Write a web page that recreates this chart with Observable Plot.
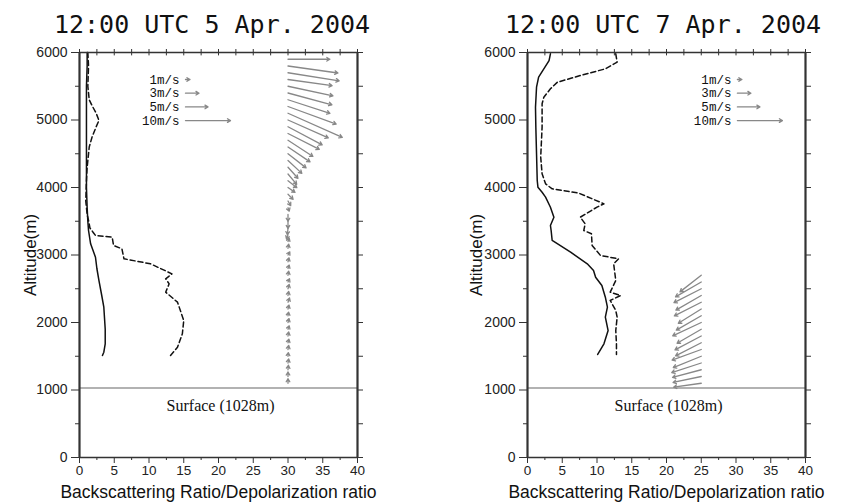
<!DOCTYPE html>
<html><head><meta charset="utf-8">
<script src="https://cdn.jsdelivr.net/npm/d3@7"></script>
<script src="https://cdn.jsdelivr.net/npm/@observablehq/plot@0.6"></script>
<style>
body{margin:0;background:#fff;}
#wrap{position:relative;width:843px;height:502px;overflow:hidden;background:#fff;}
.title{position:absolute;top:12px;width:340px;text-align:center;font-family:"DejaVu Sans Mono",monospace;font-size:25px;line-height:25px;color:#111;white-space:pre;}
.panel{position:absolute;top:40px;}
</style></head><body>
<div id="wrap">
<div class="title" id="t1" style="left:42px"></div>
<div class="title" id="t2" style="left:493px"></div>
<div class="panel" id="p1" style="left:0"></div>
<div class="panel" id="p2" style="left:421px"></div>
</div>
<script>
const titles = ["12:00 UTC 5 Apr. 2004", "12:00 UTC 7 Apr. 2004"];
const xLabel = "Backscattering Ratio/Depolarization ratio";
const yLabel = "Altitude(m)";
const surfaceAlt = 1028;
const surfaceLabel = "Surface (1028m)";
const xTicks = [0, 5, 10, 15, 20, 25, 30, 35, 40];
const yTicks = [0, 1000, 2000, 3000, 4000, 5000, 6000];
const legendSpeeds = [1, 3, 5, 10];
const legendLabels = ["1m/s", "3m/s", "5m/s", "10m/s"];

// ---- 12:00 UTC 5 Apr 2004 ----
const solidAlt5 = [6000, 5800, 5500, 5000, 4500, 4000, 3700, 3500, 3363, 3166, 2967, 2800, 2622, 2400, 2227, 1900, 1684, 1560, 1511];
const solidVal5 = [1.1, 1.1, 1.0, 1.0, 1.0, 1.0, 1.1, 1.2, 1.3, 1.6, 2.3, 2.5, 2.8, 3.2, 3.5, 3.7, 3.7, 3.5, 3.3];
const dashAlt5 = [6000, 5800, 5500, 5300, 5215, 5100, 4993, 4900, 4745, 4600, 4499, 4300, 4100, 3800, 3600, 3511, 3400, 3330, 3289, 3264, 3141, 3092, 2944, 2870, 2721, 2647, 2573, 2449, 2301, 2030, 1833, 1634, 1511];
const dashVal5 = [1.2, 1.3, 1.2, 1.4, 1.8, 2.4, 2.8, 2.4, 1.8, 1.4, 1.3, 1.1, 1.0, 0.9, 1.1, 1.3, 1.5, 2.0, 2.3, 4.7, 4.9, 6.1, 6.4, 10.2, 13.3, 12.4, 12.9, 12.4, 14.1, 15.0, 14.8, 14.1, 13.1];
const windAlt5 = [5900, 5800, 5700, 5600, 5500, 5400, 5300, 5200, 5100, 5000, 4900, 4800, 4700, 4600, 4500, 4400, 4300, 4200, 4100, 4000, 3900, 3800, 3700, 3600, 3500, 3400, 3300, 3200, 3100, 3000, 2900, 2800, 2700, 2600, 2500, 2400, 2300, 2200, 2100, 2000, 1900, 1800, 1700, 1600, 1500, 1400, 1300, 1200, 1100];
const windSpd5 = [9.3, 11.2, 11.5, 9.9, 10.2, 10.1, 9.8, 11.4, 13.2, 9.8, 8.6, 7.8, 6.6, 5.9, 5.1, 4.2, 3.3, 3.0, 2.5, 1.9, 1.6, 1.2, 0.8, 1.5, 1.6, 1.5, 1.0, 0.8, 0.9, 0.8, 0.9, 0.8, 0.9, 0.8, 1.0, 0.9, 1.0, 0.9, 0.8, 0.9, 0.8, 0.9, 0.8, 0.9, 0.8, 0.9, 1.0, 1.0, 1.0];
const windDir5 = [90, 98, 99, 98, 102, 105, 108, 110, 114, 114, 118, 117, 123, 124, 128, 133, 138, 140, 128, 125, 135, 150, 160, 180, 180, 185, 200, 20, 10, 30, 15, 20, 10, 25, 15, 10, 20, 15, 10, 15, 20, 10, 15, 10, 5, 10, 5, 0, 0];

// ---- 12:00 UTC 7 Apr 2004 ----
const solidAlt7 = [5980, 5881, 5758, 5634, 5486, 5190, 4893, 4499, 4104, 4005, 3930, 3857, 3708, 3560, 3437, 3363, 3215, 3042, 2869, 2770, 2671, 2548, 2375, 2227, 2079, 1881, 1684, 1526];
const solidVal7 = [3.3, 3.1, 2.35, 1.6, 1.3, 1.15, 1.2, 1.3, 1.4, 1.5, 2.1, 2.6, 3.3, 3.8, 3.3, 3.4, 3.55, 6.2, 8.6, 9.5, 9.8, 10.7, 11.2, 11.5, 11.2, 11.6, 11.0, 10.1];
const dashAlt7 = [5980, 5857, 5758, 5659, 5560, 5462, 5338, 5240, 4894, 4450, 4203, 4054, 3980, 3916, 3758, 3709, 3560, 3462, 3363, 3314, 3141, 2993, 2943, 2869, 2622, 2449, 2400, 2326, 2178, 2079, 1881, 1684, 1526];
const dashVal7 = [12.7, 12.9, 11.2, 7.6, 4.3, 3.3, 2.35, 2.1, 2.1, 1.9, 2.1, 2.6, 3.55, 7.4, 11.0, 10.0, 7.6, 8.3, 8.1, 9.2, 9.3, 10.5, 13.1, 12.4, 12.7, 11.9, 13.4, 11.9, 12.7, 12.9, 12.7, 12.8, 12.8];
const windAlt7 = [2700, 2600, 2500, 2400, 2300, 2200, 2100, 2000, 1900, 1800, 1700, 1600, 1500, 1400, 1300, 1200, 1100];
const windSpd7 = [6.0, 6.6, 6.8, 6.5, 6.7, 6.0, 6.4, 7.0, 6.2, 6.6, 6.4, 6.9, 6.7, 6.9, 6.6, 6.4, 6.2];
const windDir7 = [232, 240, 243, 240, 243, 238, 240, 245, 240, 242, 243, 250, 248, 252, 255, 258, 262];

const arrowShape = {
  draw(context, l) {
    context.moveTo(0, 0);
    context.lineTo(0, -l);
    const h = Math.min(3, l * 0.8);
    context.moveTo(-1.8, h - l);
    context.lineTo(0, -l);
    context.lineTo(1.8, h - l);
  }
};

function panel(o) {
  const solid = o.solidAlt.map((a, i) => ({alt: a, v: o.solidVal[i]}));
  const dash = o.dashAlt.map((a, i) => ({alt: a, v: o.dashVal[i]}));
  const wind = o.windAlt.map((a, i) => ({x: o.windX, alt: a, spd: o.windSpd[i], dir: o.windDir[i]}));
  const legend = legendSpeeds.map((s, i) => ({x: o.legendX, alt: 5600 - i * 203, spd: s, label: legendLabels[i]}));
  const xAll = d3.range(0, 40.01, 2.5);
  const xMinor = xAll.filter(v => v % 5 !== 0);
  const yAll = d3.range(0, 6001, 500);
  const yMinor = yAll.filter(v => v % 1000 !== 0);
  return Plot.plot({
    width: o.width, height: 462,
    marginTop: 12, marginBottom: 45, marginLeft: o.marginLeft, marginRight: o.marginRight,
    style: {fontFamily: "'Liberation Sans', Arial, sans-serif", fontSize: "13px", color: "#222", background: "#fff", overflow: "visible"},
    x: {domain: [0, 40]},
    y: {domain: [0, 6000]},
    length: {type: "linear", domain: [0, 10], range: [0, 45]},
    marks: [
      Plot.ruleY([surfaceAlt], {stroke: "#999", strokeWidth: 1.5}),
      Plot.text([surfaceLabel], {x: () => 20.3, y: () => 770, fontFamily: "'Liberation Serif', 'Times New Roman', serif", fontSize: 16, fill: "#111"}),
      Plot.line(solid, {x: "v", y: "alt", stroke: "#111", strokeWidth: 1.5}),
      Plot.line(dash, {x: "v", y: "alt", stroke: "#111", strokeWidth: 1.5, strokeDasharray: "5,3"}),
      Plot.vector(wind, {x: "x", y: "alt", length: "spd", rotate: "dir", anchor: "start", shape: arrowShape, stroke: "#888", strokeWidth: 1.3}),
      Plot.vector(legend, {x: "x", y: "alt", length: "spd", rotate: 90, anchor: "start", shape: arrowShape, stroke: "#888", strokeWidth: 1.3}),
      Plot.text(legend, {x: "x", y: "alt", text: "label", textAnchor: "end", dx: -6, fontFamily: "'Liberation Mono', monospace", fontSize: 12.5, fill: "#111"}),
      Plot.axisY(yTicks, {anchor: "left", tickSize: 8, tickPadding: 4, fontSize: 14, tickFormat: d => String(d), label: null, stroke: "#333"}),
      Plot.axisY(yMinor, {anchor: "left", tickSize: 4, text: null, label: null, stroke: "#333"}),
      Plot.axisY(yAll, {anchor: "right", tickSize: 5, text: null, label: null, stroke: "#333"}),
      Plot.axisX(xTicks, {anchor: "bottom", tickSize: 6, tickPadding: 2, fontSize: 13.5, tickFormat: d => String(d), label: null, stroke: "#333"}),
      Plot.axisX(xMinor, {anchor: "bottom", tickSize: 3, text: null, label: null, stroke: "#333"}),
      Plot.axisX(xAll, {anchor: "top", tickSize: 4, text: null, label: null, stroke: "#333"}),
      Plot.ruleX(xAll, {x: d => d, y1: () => 6000, y2: () => 5950, stroke: "#333"}),
      Plot.ruleX([0, 40], {stroke: "#333", strokeWidth: 2.2}),
      Plot.ruleY([0, 6000], {stroke: "#333", strokeWidth: 1.4}),
      Plot.text([xLabel], {frameAnchor: "bottom", textAnchor: "middle", lineAnchor: "middle", dy: 35, fontSize: 17.5, fill: "#111", style: "letter-spacing:0.3px"}),
      Plot.text([yLabel], {frameAnchor: "left", textAnchor: "middle", lineAnchor: "middle", dx: -o.labelOffset, rotate: -90, fontSize: 17, fill: "#111"})
    ]
  });
}

document.getElementById("t1").textContent = titles[0];
document.getElementById("t2").textContent = titles[1];
document.getElementById("p1").append(panel({
  width: 421, marginLeft: 79, marginRight: 64, labelOffset: 49,
  solidAlt: solidAlt5, solidVal: solidVal5, dashAlt: dashAlt5, dashVal: dashVal5,
  windAlt: windAlt5, windSpd: windSpd5, windDir: windDir5, windX: 30, legendX: 15.25
}));
document.getElementById("p2").append(panel({
  width: 422, marginLeft: 106, marginRight: 38, labelOffset: 51,
  solidAlt: solidAlt7, solidVal: solidVal7, dashAlt: dashAlt7, dashVal: dashVal7,
  windAlt: windAlt7, windSpd: windSpd7, windDir: windDir7, windX: 25, legendX: 30.2
}));
</script>
</body></html>
